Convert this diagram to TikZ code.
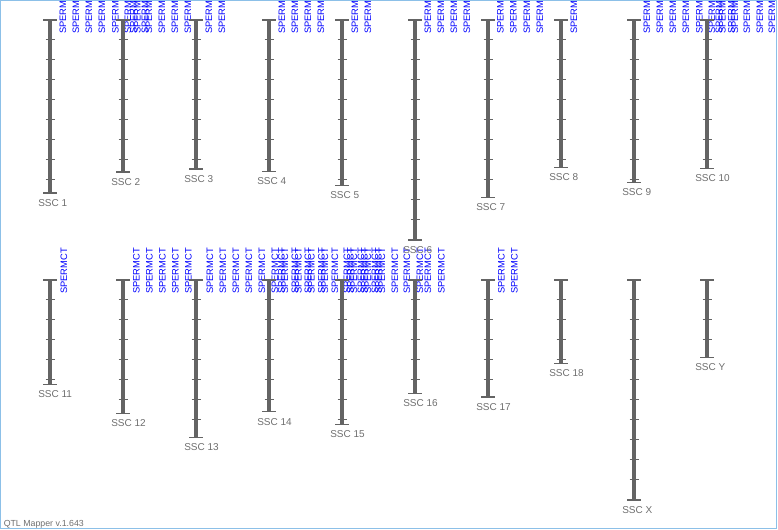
\documentclass[tikz,border=0pt]{standalone}
\usepackage{fontspec}
\setmainfont{Liberation Sans}
\usepackage{xcolor}
\usepackage{tikz}
\definecolor{barGray}{HTML}{646464}
\definecolor{labelGray}{HTML}{6E6E6E}
\definecolor{markerBlue}{HTML}{0000FF}
\definecolor{frameBlue}{HTML}{8CC0E8}
\tikzset{
  chromBar/.style={draw=barGray, line width=3.4pt},
  chromCap/.style={draw=barGray, line width=0.8pt},
  chromTick/.style={draw=barGray, line width=0.75pt},
  chromLabel/.style={text=labelGray, font=\fontsize{7.5}{9}\selectfont, anchor=base west, inner sep=0pt},
  markerLabel/.style={text=markerBlue, font=\fontsize{7}{8}\selectfont, rotate=90, anchor=west, inner sep=0pt},
  footerText/.style={text=labelGray, font=\fontsize{6.6}{8}\selectfont, anchor=base west, inner sep=0pt},
  frameLine/.style={draw=frameBlue, line width=0.75pt}
}

\begin{document}
\begin{tikzpicture}[x=0.75pt, y=-0.75pt]
  \useasboundingbox (0,0) rectangle (778,530);

  % marker names, cut at the frame
  \begin{scope}
    \clip (1,1) rectangle (776,528);
    \foreach \mx [count=\k] in {63,76,89,102,115.5,128,133.5,137.5,145,149,162,175,188,209,222,
        282,295,308,321,355,368,428,441,454,467,500.5,513.5,527,540,574,
        647,660,673,686,699.5,712,719,722.5,731.5,735,747,760,772}
      \node[markerLabel] (mkTop\k) at (\mx,34) {SPERMCT};
    \foreach \mx [count=\k] in {64,136.5,149.5,162.5,175.5,188.5,210,223,236,249,262,
        275,281.5,285,295,298.5,308,311.5,321.5,325,335,347,350.5,354,361,364.5,368,
        375,378.5,382,395,407,420,428,441.5,501.5,514.5}
      \node[markerLabel] (mkBot\k) at (\mx,294) {SPERMCT};
  \end{scope}

  % chromosomes: name / column / top / bottom / last tick
  \foreach \nm/\c/\tp/\bt/\lt in {1/1/20/193/180, 2/2/20/172/160, 3/3/20/169/160,
      4/4/20/171.3/160, 5/5/20/185.3/180, 6/6/20/240/220, 7/7/20/197.3/180,
      8/8/20/167.3/160, 9/9/20/182.5/180, 10/10/20/168.3/160,
      11/1/280/384.3/380, 12/2/280/413.3/400, 13/3/280/437.3/420, 14/4/280/411.7/400,
      15/5/280/424.3/420, 16/6/280/393.3/380, 17/7/280/397/380, 18/8/280/363.3/360,
      X/9/280/500/480, Y/10/280/357.3/340}{
    \pgfmathsetmacro{\x}{50+73*(\c-1)}
    \pgfmathsetmacro{\ft}{\tp+20}
    \pgfmathsetmacro{\st}{\tp+40}
    \draw[chromBar] (\x,\tp) -- (\x,\bt);
    \draw[chromCap] (\x-7,\tp) -- (\x+7,\tp);
    \draw[chromCap] (\x-7,\bt) -- (\x+7,\bt);
    \foreach \t in {\ft,\st,...,\lt}
      \draw[chromTick] (\x-4.5,\t) -- (\x+4.5,\t);
    \node[chromLabel] (ssc\nm) at (\x-12,\bt+13.5) {SSC \nm};
  }

  \node[footerText] (version) at (3.5,527) {QTL Mapper v.1.643};
  \draw[frameLine] (0.5,0.5) rectangle (776.5,528.5);
\end{tikzpicture}
\end{document}
